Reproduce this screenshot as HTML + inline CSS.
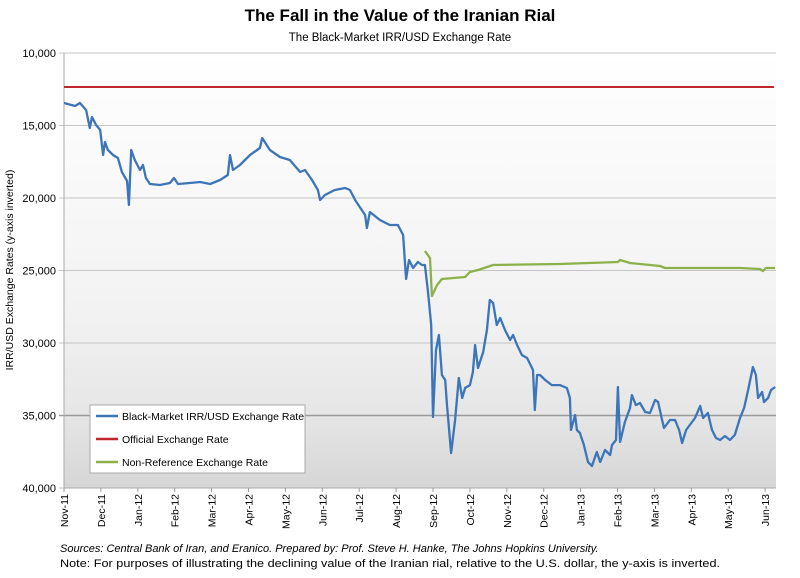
<!DOCTYPE html>
<html><head><meta charset="utf-8"><style>
body{margin:0;background:#fff;width:800px;height:573px;overflow:hidden;font-family:"Liberation Sans",sans-serif}
</style></head><body>
<svg id="c" width="800" height="573" xmlns="http://www.w3.org/2000/svg">
<defs><linearGradient id="bg" x1="0" y1="0" x2="0" y2="1">
<stop offset="0" stop-color="#ffffff"/><stop offset="0.6" stop-color="#f2f2f2"/><stop offset="0.83" stop-color="#e6e6e6"/><stop offset="1" stop-color="#d6d6d6"/></linearGradient></defs>
<text x="400" y="21" text-anchor="middle" font-size="17" font-weight="bold">The Fall in the Value of the Iranian Rial</text>
<text x="400" y="41" text-anchor="middle" font-size="11.5">The Black-Market IRR/USD Exchange Rate</text>
<rect x="64" y="53" width="712" height="435" fill="url(#bg)"/>
<g id="grid"></g><g id="xt"></g><g id="series"></g>
<text transform="translate(13,270) rotate(-90)" text-anchor="middle" font-size="10.5">IRR/USD Exchange Rates (y-axis inverted)</text>
<g>
<rect x="90" y="405" width="215" height="68" fill="#fff" stroke="#aaa"/>
<line x1="96" y1="416" x2="118" y2="416" stroke="#3c75b8" stroke-width="2.5"/>
<text x="122" y="420" font-size="10.5">Black-Market IRR/USD Exchange Rate</text>
<line x1="96" y1="439" x2="118" y2="439" stroke="#c0272d" stroke-width="2.5"/>
<text x="122" y="443" font-size="10.5">Official Exchange Rate</text>
<line x1="96" y1="462" x2="118" y2="462" stroke="#8db04a" stroke-width="2.5"/>
<text x="122" y="466" font-size="10.5">Non-Reference Exchange Rate</text>
</g>
<text x="60" y="552" font-size="11" font-style="italic">Sources: Central Bank of Iran, and Eranico. Prepared by: Prof. Steve H. Hanke, The Johns Hopkins University.</text>
<text x="60" y="567" font-size="11" textLength="660" lengthAdjust="spacingAndGlyphs">Note: For purposes of illustrating the declining value of the Iranian rial, relative to the U.S. dollar, the y-axis is inverted.</text>
</svg>
<script>
const months=["Nov-11","Dec-11","Jan-12","Feb-12","Mar-12","Apr-12","May-12","Jun-12","Jul-12","Aug-12","Sep-12","Oct-12","Nov-12","Dec-12","Jan-13","Feb-13","Mar-13","Apr-13","May-13","Jun-13"];
const yTicks=[10000,15000,20000,25000,30000,35000,40000];
const officialRate=12345;
const bmT=[0,0.30,0.43,0.60,0.70,0.76,0.87,0.98,1.06,1.11,1.19,1.33,1.46,1.57,1.71,1.76,1.82,1.92,2.06,2.14,2.22,2.33,2.60,2.87,2.98,3.09,3.41,3.69,3.96,4.23,4.44,4.50,4.58,4.77,5.04,5.31,5.37,5.58,5.85,6.12,6.40,6.53,6.72,6.88,6.94,7.07,7.34,7.62,7.75,7.89,8.16,8.21,8.29,8.56,8.83,9.05,9.19,9.27,9.35,9.46,9.59,9.70,9.78,9.86,9.95,10.00,10.08,10.16,10.24,10.33,10.38,10.49,10.60,10.70,10.79,10.87,11.00,11.08,11.14,11.22,11.36,11.46,11.54,11.63,11.73,11.82,11.95,12.09,12.17,12.28,12.41,12.55,12.71,12.76,12.82,12.90,13.04,13.22,13.44,13.63,13.71,13.74,13.85,13.90,13.98,14.09,14.20,14.31,14.44,14.53,14.66,14.80,14.85,14.96,15.01,15.07,15.20,15.34,15.39,15.50,15.61,15.75,15.88,16.02,16.10,16.21,16.26,16.42,16.56,16.67,16.75,16.86,16.96,17.10,17.24,17.32,17.45,17.56,17.67,17.78,17.91,18.05,18.18,18.32,18.43,18.54,18.67,18.75,18.81,18.92,18.97,19.08,19.16,19.27];
const bmV=[13450,13655,13450,13930,15170,14415,14965,15310,17035,16140,16690,17035,17240,18210,18830,20485,16690,17380,18070,17725,18620,19035,19105,18965,18620,19035,18965,18895,19035,18760,18415,17035,18070,17725,17035,16550,15860,16690,17175,17380,18210,18070,18760,19450,20140,19795,19450,19310,19450,20140,21175,22070,20965,21520,21865,21865,22555,25585,24275,24830,24415,24620,24620,26345,28760,35105,30485,29450,32210,32555,34280,37590,35310,32415,33795,33105,32900,32000,30140,31725,30620,29105,27035,27240,28760,28275,29105,29795,29450,30140,30830,31035,31865,34620,32210,32210,32555,32900,32900,33105,33795,36000,34965,36000,36210,37035,38210,38485,37520,38210,37380,37725,37035,36690,33035,36830,35450,34485,33590,34280,34140,34760,34830,33930,34070,35310,35865,35310,35310,36000,36900,36000,35655,35175,34345,35175,34830,36000,36555,36690,36415,36690,36345,35175,34485,33245,31655,32210,33795,33380,34070,33795,33245,33035];
const nrT=[9.78,9.92,9.97,10.11,10.24,10.87,11.00,11.22,11.63,13.44,15.01,15.07,15.34,16.15,16.29,18.32,18.86,18.94,19.02,19.27];
const nrV=[23655,24140,26760,26000,25585,25450,25105,24965,24620,24555,24415,24275,24485,24690,24830,24830,24900,25040,24830,24830];
const L=64,R=776,T=53,B=488,NS="http://www.w3.org/2000/svg";
const xs=m=>L+m*36.9;
const ys=v=>T+(v-10000)/30000*(B-T);
function mk(tag,at,parent){const e=document.createElementNS(NS,tag);for(const k in at)e.setAttribute(k,at[k]);document.getElementById(parent).appendChild(e);return e;}
yTicks.forEach(v=>{
 const l=mk('line',{x1:L-5,x2:R,y1:ys(v),y2:ys(v),stroke:v==35000?'#999':'#c4c4c4','stroke-width':v==35000?1.5:1},'grid');
 
 
 const t=mk('text',{x:L-8,y:ys(v)+4,'text-anchor':'end','font-size':11},'grid');
 t.textContent=v.toLocaleString('en-US');
 
 
});
mk('line',{x1:L,x2:L,y1:T,y2:B,stroke:'#aaa'},'grid');
mk('line',{x1:L,x2:R,y1:B,y2:B,stroke:'#aaa'},'grid');
months.forEach((m,i)=>{
 const x=xs(i);
 mk('line',{x1:x,x2:x,y1:B,y2:B+4,stroke:'#999'},'xt');
 const t=mk('text',{transform:`translate(${x+4},${B+6}) rotate(-90)`,'text-anchor':'end','font-size':10.5},'xt');
 t.textContent=m;
 
 
});
const off=mk('line',{x1:L,x2:R-2,y1:ys(officialRate),y2:ys(officialRate),stroke:'#c0272d','stroke-width':2},'series');


function pl(t,v,c,name){
 const p=mk('polyline',{points:t.map((m,i)=>xs(m).toFixed(1)+','+ys(v[i]).toFixed(1)).join(' '),fill:'none',stroke:c,'stroke-width':2.3,'stroke-linejoin':'round'},'series');
 
 
}
pl(nrT,nrV,'#8db04a','non-reference-rate-line');
pl(bmT,bmV,'#3c75b8','black-market-rate-line');
</script>
</body></html>
